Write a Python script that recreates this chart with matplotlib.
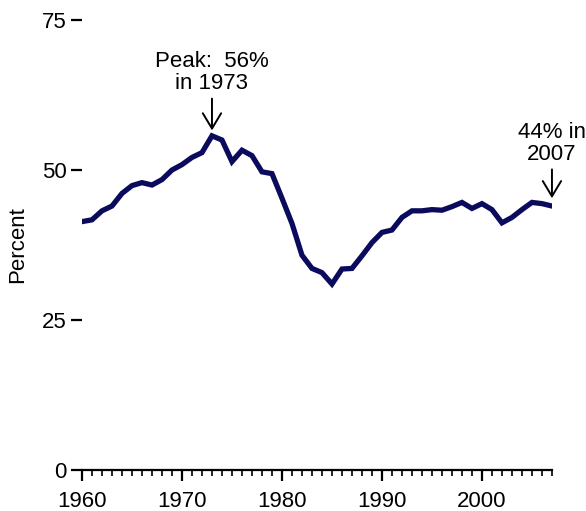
import numpy as np
import matplotlib
matplotlib.use("Agg")
import matplotlib.pyplot as plt
from matplotlib.ticker import MultipleLocator

# share of ... (percent)
years = list(range(1960, 2008))
percent = [41.4, 41.7, 43.2, 44.0, 46.1, 47.4, 47.9, 47.5, 48.4, 50.0,
           50.9, 52.1, 52.9, 55.7, 55.0, 51.4, 53.3, 52.4, 49.7, 49.4,
           45.3, 41.1, 35.8, 33.6, 32.9, 31.0, 33.5, 33.6, 35.7, 37.9,
           39.6, 40.0, 42.1, 43.2, 43.2, 43.4, 43.3, 43.9, 44.6, 43.6,
           44.4, 43.4, 41.2, 42.1, 43.4, 44.6, 44.4, 44.0]
y_ticks = [0, 25, 50, 75]
x_ticks = [1960, 1970, 1980, 1990, 2000]
peak_text = "Peak:  56%\nin 1973"
end_text = "44% in\n2007"

plt.rcParams['font.family'] = ['Liberation Sans', 'DejaVu Sans']

fig = plt.figure(figsize=(5.86, 5.11), dpi=100)
ax = fig.add_axes([0.1399, 0.0802, 0.802, 0.8806])

ax.plot(years, percent, color='#0b0b5e', lw=3.8, solid_joinstyle='miter')

ax.set_xlim(1960, 2007)
ax.set_ylim(0, 75)

ax.spines[['top', 'right', 'left']].set_visible(False)
ax.spines['bottom'].set_linewidth(1.6)

ax.set_yticks(y_ticks)
ax.set_xticks(x_ticks)
ax.xaxis.set_minor_locator(MultipleLocator(1))
ax.tick_params(axis='y', length=8, width=1.6, pad=3, labelsize=16)
ax.tick_params(axis='x', which='major', length=8, width=1.6, pad=7, labelsize=16)
ax.tick_params(axis='x', which='minor', length=4.5, width=1.2)

ax.set_ylabel("Percent", fontsize=16, labelpad=10)

# annotations
arrow = dict(arrowstyle='->, head_length=0.5, head_width=0.3', color='black',
             lw=1.4, mutation_scale=22, shrinkA=1, shrinkB=0)
ax.annotate(peak_text, xy=(1973, 56.6), xytext=(1973, 62.6),
            ha='center', va='bottom', fontsize=16, linespacing=1.1,
            arrowprops=arrow)
ax.annotate(end_text, xy=(2007, 45.3), xytext=(2007, 50.8),
            ha='center', va='bottom', fontsize=16, linespacing=1.1,
            arrowprops=arrow, annotation_clip=False)

fig.savefig("out.png", dpi=100)
